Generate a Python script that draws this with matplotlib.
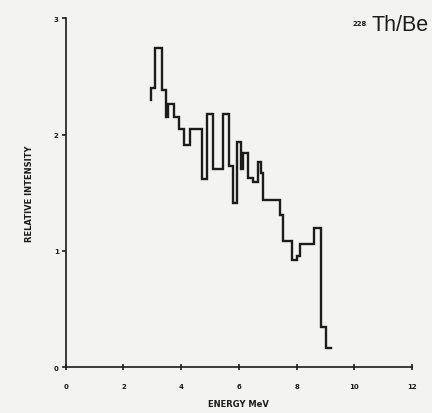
import matplotlib
matplotlib.use('Agg')
import matplotlib.pyplot as plt

# bin edges (MeV) and relative intensity of each bin
edges = [2.97, 3.09, 3.34, 3.48, 3.56, 3.76, 3.92, 4.10, 4.32, 4.71, 4.90,
         5.10, 5.45, 5.66, 5.78, 5.93, 6.07, 6.15, 6.30, 6.49, 6.65, 6.76,
         6.84, 7.43, 7.54, 7.83, 8.00, 8.12, 8.59, 8.85, 9.02, 9.18]
intensity = [2.40, 2.74, 2.38, 2.15, 2.26, 2.15, 2.05, 1.91, 2.05, 1.62,
             2.18, 1.70, 2.18, 1.73, 1.41, 1.94, 1.70, 1.84, 1.63, 1.59,
             1.76, 1.67, 1.44, 1.31, 1.09, 0.92, 0.96, 1.06, 1.20, 0.35, 0.17]
start_level = 2.30

xticks = [0, 2, 4, 6, 8, 10, 12]
yticks = [0, 1, 2, 3]

# build the step outline
xs = [edges[0]]
ys = [start_level]
for i, v in enumerate(intensity):
    xs += [edges[i], edges[i + 1]]
    ys += [v, v]

bg = '#f3f3f1'
ink = '#1c1c1c'

fig = plt.figure(figsize=(4.32, 4.14), dpi=100, facecolor=bg)
ax = fig.add_axes([0.152, 0.110, 0.802, 0.844], facecolor=bg)

ax.plot(xs, ys, color=ink, lw=1.7, solid_joinstyle='miter')

ax.set_xlim(0, 12)
ax.set_ylim(0, 3)
for s in ['top', 'right']:
    ax.spines[s].set_visible(False)
for s in ['left', 'bottom']:
    ax.spines[s].set_color(ink)
    ax.spines[s].set_linewidth(1.2)

ax.set_xticks(xticks)
ax.set_yticks(yticks)
ax.tick_params(axis='x', direction='inout', length=5, width=1.2, colors=ink,
               labelsize=5, pad=9)
ax.tick_params(axis='y', direction='out', length=3, width=1.2, colors=ink,
               labelsize=5, pad=2)
for lab in ax.get_xticklabels() + ax.get_yticklabels():
    lab.set_fontweight('bold')

ax.set_xlabel('ENERGY MeV', fontsize=6, fontweight='bold', color=ink,
              labelpad=7)
ax.set_ylabel('RELATIVE INTENSITY', fontsize=6, fontweight='bold', color=ink,
              labelpad=14)

fig.text(0.992, 0.925, 'Th/Be', ha='right', va='baseline', fontsize=15.5,
         family='Liberation Sans', color=ink)
fig.text(0.815, 0.938, '228', ha='left', va='baseline', fontsize=5,
         fontweight='bold', color=ink)

fig.savefig('out.png', dpi=100, facecolor=bg)
